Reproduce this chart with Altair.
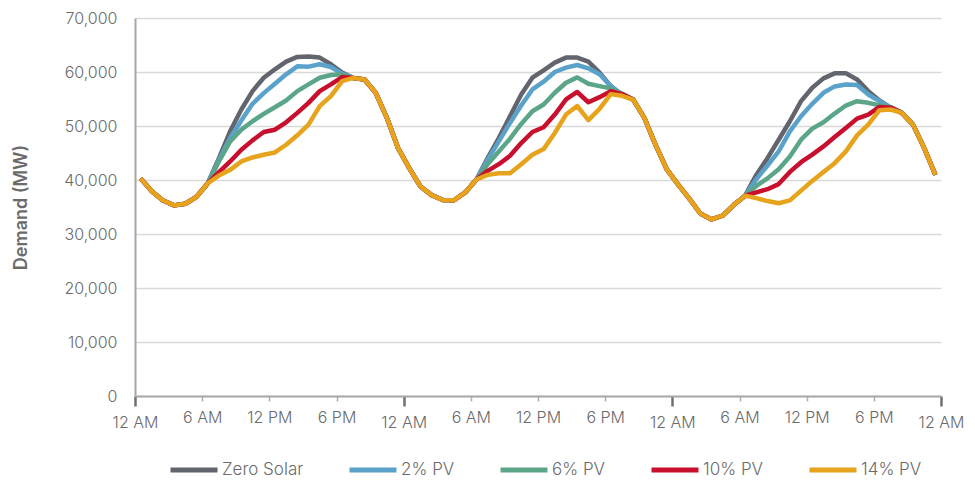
import altair as alt
import pandas as pd

# ---- data (hourly demand, MW) ----
hours = [h + 0.5 for h in range(72)]
series_names = ["Zero Solar", "2% PV", "6% PV", "10% PV", "14% PV"]
series_colors = ["#62656e", "#5aa2ca", "#5ba689", "#c8102e", "#e6a31b"]

# segments shared by all series (night hours)
night_a = [40300, 37900, 36200, 35300, 35600, 36900, 39400]                      # h0-h6
night_b = [58900, 58600, 56150, 51500, 45900, 42200, 38800, 37200, 36300, 36250, 37700, 40100]  # h19-h30
night_c = [54900, 51500, 46500, 42000, 39200, 36600, 33800, 32700, 33400, 35400, 37100]  # h44-h54
night_d = [52430, 50250, 45900, 40950]                                         # h68-h71

zero_d1 = [44050, 49010, 53050, 56460, 58940, 60500, 61920, 62790, 62850, 62670, 61430, 59880]
zero_d2 = [44050, 47770, 51810, 55840, 58940, 60310, 61740, 62670, 62670, 61920, 59880, 57390, 55800]
zero_d3 = [40940, 44050, 47460, 50880, 54600, 57080, 58820, 59750, 59750, 58630, 56460, 54720, 53400]

pv2_d1 = [43740, 47770, 51030, 54100, 56090, 57830, 59570, 61050, 60990, 61430, 60930, 59690]
pv2_d2 = [43740, 47150, 50570, 53790, 56770, 58200, 60000, 60810, 61300, 60680, 59570, 57390, 55800]
pv2_d3 = [40140, 42680, 45290, 49010, 51810, 54100, 56150, 57330, 57700, 57580, 55840, 54600, 53400]

pv6_d1 = [43430, 47150, 49320, 50880, 52240, 53480, 54720, 56460, 57700, 58940, 59440, 59570]
pv6_d2 = [42930, 45290, 47650, 50380, 52740, 53980, 56150, 58010, 59000, 57830, 57390, 56960, 56000]
pv6_d3 = [38900, 40300, 42000, 44360, 47460, 49510, 50690, 52300, 53790, 54600, 54290, 53850, 53500]

pv10_d1 = [41440, 43430, 45600, 47340, 48890, 49320, 50690, 52430, 54290, 56460, 57700, 59070]
pv10_d2 = [41690, 42930, 44480, 46840, 48890, 49760, 52120, 54910, 56300, 54400, 55340, 56460, 55900]
pv10_d3 = [37700, 38300, 39240, 41500, 43300, 44700, 46220, 47960, 49630, 51370, 52120, 53540, 53400]

pv14_d1 = [40820, 41880, 43430, 44170, 44670, 45100, 46530, 48270, 50250, 53670, 55530, 58320]
pv14_d2 = [40950, 41260, 41260, 42930, 44670, 45720, 48700, 52120, 53700, 51100, 53170, 55900, 55600]
pv14_d3 = [36650, 36100, 35700, 36230, 38030, 39830, 41500, 43120, 45300, 48270, 50250, 52920, 53050]

day_parts = [
    (zero_d1, zero_d2, zero_d3),
    (pv2_d1, pv2_d2, pv2_d3),
    (pv6_d1, pv6_d2, pv6_d3),
    (pv10_d1, pv10_d2, pv10_d3),
    (pv14_d1, pv14_d2, pv14_d3),
]

rows = []
for name, (d1, d2, d3) in zip(series_names, day_parts):
    vals = night_a + d1 + night_b + d2 + night_c + d3 + night_d
    for h, v in zip(hours, vals):
        rows.append({"hour": h, "demand": v, "series": name})
df = pd.DataFrame(rows)

tick_values = list(range(0, 73, 6))
FONT = "Inter"
TXT = "#6b6b6b"

label_expr = ("(datum.value % 24 == 0) ? '12 AM' : (datum.value % 24 == 6) ? '6 AM' : "
              "(datum.value % 24 == 12) ? '12 PM' : '6 PM'")

chart = alt.Chart(df).mark_line(strokeWidth=4.5, strokeJoin="round").encode(
    x=alt.X("hour:Q",
            scale=alt.Scale(domain=[0, 72], nice=False, zero=False),
            axis=alt.Axis(values=tick_values, labelExpr=label_expr, title=None,
                          grid=False, domainColor="#a8a8a8", domainWidth=2,
                          tickColor={"condition": {"test": "datum.value % 24 == 0", "value": "#6f6f6f"}, "value": "#b0b0b0"},
                          tickWidth={"condition": {"test": "datum.value % 24 == 0", "value": 2.5}, "value": 1.5},
                          tickSize={"condition": {"test": "datum.value % 24 == 0", "value": 10}, "value": 5},
                          labelFlush=False, labelOverlap=False,
                          labelPadding=8, labelFont=FONT, labelFontSize=16, labelFontWeight=300,
                          labelColor=TXT)),
    y=alt.Y("demand:Q",
            scale=alt.Scale(domain=[0, 70000], nice=False),
            axis=alt.Axis(values=list(range(0, 70001, 10000)), format=",d", title="Demand (MW)",
                          ticks=False, labelPadding=18, domainColor="#a8a8a8", domainWidth=2,
                          gridColor="#d9d9d9", gridWidth=1.5,
                          labelFont=FONT, labelFontSize=16, labelFontWeight=300, labelColor=TXT,
                          titleFont=FONT, titleFontSize=18, titleFontWeight=600, titleColor=TXT,
                          titleAngle=-90, titleBaseline="middle", titleAlign="center",
                          titleX=-114, titleY=189)),
    color=alt.Color("series:N",
                    scale=alt.Scale(domain=series_names, range=series_colors),
                    sort=series_names,
                    legend=alt.Legend(title=None, orient="none", direction="horizontal",
                                      legendX=33, legendY=426, gridAlign="each",
                                      symbolType="stroke", symbolSize=2209, symbolStrokeWidth=5,
                                      labelFont=FONT, labelFontSize=17, labelFontWeight=300,
                                      labelColor=TXT, labelOffset=2, columnPadding=35)),
).properties(
    width=806, height=378,
    autosize=alt.AutoSizeParams(type="none"),
    padding={"left": 127, "top": 10, "right": 26, "bottom": 88},
).configure_view(stroke=None)

chart.save("out.html", embed_options={"renderer": "svg", "actions": False})
